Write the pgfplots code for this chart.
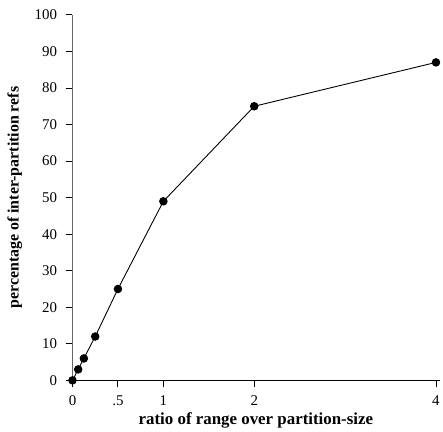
\documentclass[border=0pt]{standalone}
\usepackage{fontspec}
\setmainfont{Liberation Serif}
\usepackage{graphicx}
\usepackage{pgfplots}
\pgfplotsset{compat=1.18}
\begin{document}
\begin{tikzpicture}
\path (-73pt,-49pt) (370pt,383pt);
\begin{axis}[
  at={(0pt,0pt)}, anchor=south west,
  scale only axis,
  width=370pt, height=368pt,
  xmin=0, xmax=4.044, ymin=0, ymax=100,
  axis x line*=bottom, axis y line*=left,
  x axis line style={-, black, line width=0.9pt},
  y axis line style={-, black!60, line width=1.5pt},
  xtick={0,0.5,1,2,4}, xticklabels={0,.5,1,2,4},
  ytick={0,10,...,100},
  tick align=outside, major tick length=7pt,
  tick style={black, line width=0.9pt},
  /pgf/number format/assume math mode=true,
  tick label style={font=\fontsize{15}{17}\selectfont},
  xticklabel style={yshift=-5pt},
  yticklabel style={xshift=-5pt},
  xlabel={ratio of range over partition-size},
  ylabel={\rotatebox{90}{percentage of inter-partition refs}},
  xlabel style={font=\bfseries\fontsize{17}{19}\selectfont, at={(axis description cs:0.499,-0.1195)}, anchor=base},
  ylabel style={rotate=-90, font=\bfseries\fontsize{16}{18}\selectfont, at={(axis description cs:-0.157,0.5)}, anchor=center},
  clip=false,
]
\addplot[black, line width=0.9pt, mark=*, mark size=3.8pt] coordinates {
(0,0) (0.0625,3) (0.125,6) (0.25,12) (0.5,25) (1,49) (2,75) (4,87)};
\end{axis}
\end{tikzpicture}
\end{document}
